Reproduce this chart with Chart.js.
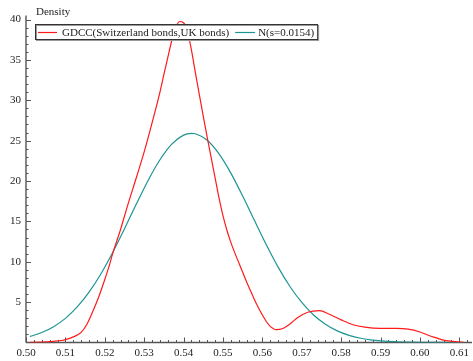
<!DOCTYPE html>
<html>
<head>
<meta charset="utf-8">
<script src="https://cdn.jsdelivr.net/npm/chart.js@4.4.1/dist/chart.umd.min.js"></script>
<style>
  html, body { margin: 0; padding: 0; background: #fff; }
  #wrap { width: 473px; height: 361px; }
</style>
</head>
<body>
<div id="wrap"><canvas id="densityChart" width="473" height="361"></canvas></div>
<script>
// 读图估计的数据
const gdccX = [0.501, 0.504, 0.507, 0.509, 0.510, 0.512, 0.514, 0.5155, 0.517, 0.5185, 0.520, 0.521, 0.522, 0.524, 0.526, 0.528, 0.530, 0.532, 0.534, 0.535, 0.536, 0.537, 0.538, 0.539, 0.540, 0.541, 0.542, 0.543, 0.544, 0.545, 0.546, 0.547, 0.548, 0.549, 0.550, 0.551, 0.552, 0.553, 0.554, 0.555, 0.556, 0.557, 0.558, 0.559, 0.560, 0.561, 0.562, 0.5635, 0.565, 0.567, 0.569, 0.5715, 0.5745, 0.577, 0.580, 0.583, 0.586, 0.590, 0.594, 0.597, 0.600, 0.603, 0.606, 0.609, 0.611];
const gdccY = [0.02, 0.05, 0.15, 0.25, 0.35, 0.7, 1.25, 2.3, 3.9, 5.7, 7.8, 9.3, 11.0, 14.0, 17.3, 20.4, 23.6, 27.2, 31.0, 33.2, 35.3, 37.4, 39.0, 39.75, 39.6, 38.5, 36.2, 33.4, 30.7, 28.0, 25.4, 22.9, 20.4, 17.9, 15.7, 13.9, 12.4, 11.1, 9.9, 8.7, 7.5, 6.4, 5.3, 4.3, 3.4, 2.6, 2.0, 1.6, 1.7, 2.3, 3.1, 3.75, 3.95, 3.5, 2.8, 2.2, 1.9, 1.75, 1.75, 1.65, 1.3, 0.75, 0.3, 0.1, 0.05];

const normX = [0.501, 0.504, 0.507, 0.510, 0.513, 0.516, 0.519, 0.522, 0.525, 0.528, 0.531, 0.534, 0.537, 0.540, 0.542, 0.543, 0.546, 0.549, 0.552, 0.555, 0.558, 0.561, 0.564, 0.567, 0.570, 0.573, 0.576, 0.579, 0.582, 0.585, 0.588, 0.591, 0.594, 0.597, 0.600, 0.605, 0.611];
const normY = [0.75, 1.23, 1.96, 2.99, 4.40, 6.23, 8.49, 11.14, 14.09, 17.14, 20.07, 22.63, 24.57, 25.68, 25.9, 25.85, 25.04, 23.36, 20.98, 18.14, 15.10, 12.10, 9.33, 6.93, 4.96, 3.41, 2.26, 1.44, 0.89, 0.53, 0.30, 0.16, 0.09, 0.044, 0.02, 0.005, 0.001];

const xTicks = [0.50, 0.51, 0.52, 0.53, 0.54, 0.55, 0.56, 0.57, 0.58, 0.59, 0.60, 0.61];
const yTicks = [5, 10, 15, 20, 25, 30, 35, 40];

const seriesLabels = ['GDCC(Switzerland bonds,UK bonds)', 'N(s=0.0154)'];
const seriesColors = ['#ff1a1a', '#1e9494'];

const X_MIN = 0.50, X_MAX = 0.6132, Y_MIN = 0, Y_MAX = 40.5;
const FONT = '11px "Liberation Serif", "DejaVu Serif", serif';

function toPoints(xs, ys) {
    return xs.map((v, i) => ({ x: v, y: ys[i] }));
}

// 坐标轴（刻度朝内）
const axesPlugin = {
    id: 'mmaAxes',
    beforeDatasetsDraw(chart) {
        const { ctx, chartArea: a, scales: { x, y } } = chart;
        const y0 = y.getPixelForValue(0);
        const x0 = x.getPixelForValue(X_MIN);
        ctx.save();
        ctx.strokeStyle = '#555';
        ctx.lineWidth = 1.4;
        ctx.beginPath();
        ctx.moveTo(a.left, y0); ctx.lineTo(a.right, y0);
        ctx.moveTo(x0, a.top); ctx.lineTo(x0, y0);
        ctx.stroke();

        ctx.lineWidth = 1;
        ctx.beginPath();
        for (let i = 0; ; i++) {
            const v = X_MIN + i * 0.002;
            if (v > X_MAX) break;
            const px = Math.round(x.getPixelForValue(v)) + 0.5;
            const len = i % 5 === 0 ? 5 : 2.5;
            ctx.moveTo(px, y0); ctx.lineTo(px, y0 - len);
        }
        for (let v = 1; v <= Y_MAX; v++) {
            const py = Math.round(y.getPixelForValue(v)) + 0.5;
            const len = v % 5 === 0 ? 5 : 2.5;
            ctx.moveTo(x0, py); ctx.lineTo(x0 + len, py);
        }
        ctx.stroke();
        ctx.restore();
    },
    afterDraw(chart) {
        const { ctx } = chart;
        ctx.save();
        ctx.font = FONT;
        ctx.fillStyle = '#222';
        ctx.textBaseline = 'alphabetic';
        ctx.fillText('Density', 36, 15);

        // 图例
        const left = 35, top = 24, h = 15;
        const w0 = ctx.measureText(seriesLabels[0]).width;
        const w1 = ctx.measureText(seriesLabels[1]).width;
        const width = 3 + 19 + 5 + w0 + 6 + 20 + 3 + w1 + 3;
        ctx.fillStyle = '#fff';
        ctx.fillRect(left, top, width, h);
        ctx.strokeStyle = '#999';
        ctx.lineWidth = 1;
        ctx.strokeRect(left + 1.5, top + 1.5, width, h);
        ctx.strokeStyle = '#333';
        ctx.strokeRect(left + 0.5, top + 0.5, width, h);

        const cy = top + h / 2 + 1;
        let cx = left + 3;
        ctx.lineWidth = 1.2;
        ctx.strokeStyle = seriesColors[0];
        ctx.beginPath(); ctx.moveTo(cx, cy); ctx.lineTo(cx + 19, cy); ctx.stroke();
        cx += 24;
        ctx.fillStyle = '#222';
        ctx.fillText(seriesLabels[0], cx, top + 12);
        cx += w0 + 6;
        ctx.strokeStyle = seriesColors[1];
        ctx.beginPath(); ctx.moveTo(cx, cy); ctx.lineTo(cx + 20, cy); ctx.stroke();
        cx += 23;
        ctx.fillText(seriesLabels[1], cx, top + 12);
        ctx.restore();
    }
};

function initChart() {
    const el = document.getElementById('densityChart');
    new Chart(el.getContext('2d'), {
        type: 'line',
        data: {
            datasets: [{
                label: seriesLabels[0],
                data: toPoints(gdccX, gdccY),
                borderColor: seriesColors[0],
                borderWidth: 1.2,
                pointRadius: 0,
                cubicInterpolationMode: 'monotone',
                fill: false
            }, {
                label: seriesLabels[1],
                data: toPoints(normX, normY),
                borderColor: seriesColors[1],
                borderWidth: 1.2,
                pointRadius: 0,
                cubicInterpolationMode: 'monotone',
                fill: false
            }]
        },
        options: {
            responsive: false,
            animation: false,
            events: [],
            layout: { padding: { top: 342.5 - 40.5 * 8.075, right: 1, left: 0, bottom: 0 } },
            plugins: { legend: { display: false }, tooltip: { enabled: false } },
            scales: {
                x: {
                    type: 'linear',
                    min: X_MIN,
                    max: X_MAX,
                    grid: { display: false, drawTicks: false },
                    border: { display: false },
                    afterBuildTicks: s => { s.ticks = xTicks.map(v => ({ value: v })); },
                    afterFit: s => { s.height = 18.5; },
                    ticks: {
                        font: { family: '"Liberation Serif"', size: 11 },
                        color: '#222',
                        padding: 4,
                        maxRotation: 0,
                        autoSkip: false,
                        callback: v => v.toFixed(2)
                    }
                },
                y: {
                    type: 'linear',
                    min: Y_MIN,
                    max: Y_MAX,
                    grid: { display: false, drawTicks: false },
                    border: { display: false },
                    afterBuildTicks: s => { s.ticks = yTicks.map(v => ({ value: v })); },
                    afterFit: s => { s.width = 26; },
                    ticks: {
                        font: { family: '"Liberation Serif"', size: 11 },
                        color: '#222',
                        padding: 5,
                        autoSkip: false,
                        callback: v => String(v)
                    }
                }
            }
        },
        plugins: [axesPlugin]
    });
}

if (document.readyState === 'loading') {
    document.addEventListener('DOMContentLoaded', initChart);
} else {
    initChart();
}
</script>
</body>
</html>
